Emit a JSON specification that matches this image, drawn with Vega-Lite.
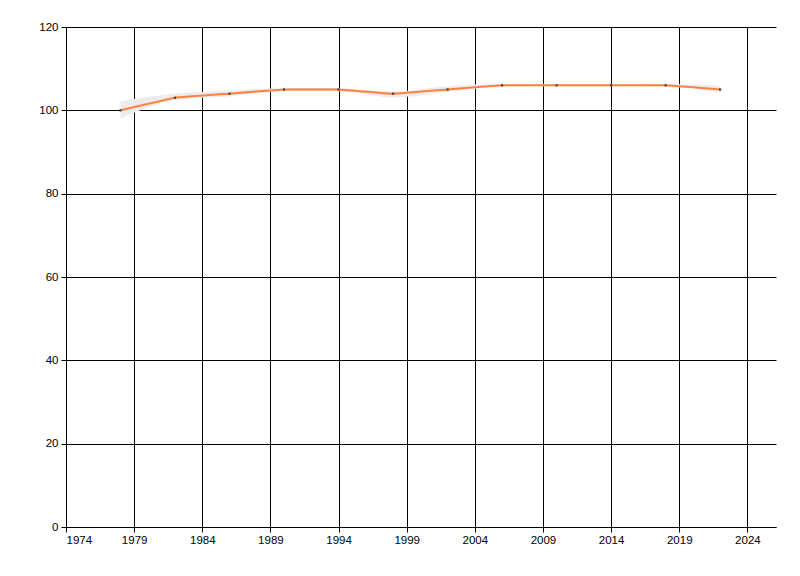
{
  "$schema": "https://vega.github.io/schema/vega-lite/v6.json",
  "width": 710,
  "height": 500,
  "autosize": {"type": "none"},
  "padding": {"left": 66, "top": 27, "right": 24, "bottom": 49},
  "background": "white",
  "config": {
    "view": {"stroke": null},
    "axis": {
      "labelFont": "Liberation Sans",
      "labelFontSize": 11.5,
      "labelColor": "#000000",
      "domainColor": "#000000",
      "tickColor": "#000000",
      "gridColor": "#000000",
      "gridOpacity": 1,
      "gridWidth": 1,
      "tickSize": 5,
      "title": null
    }
  },
  "data": {
    "values": [
      {"year": 1978, "value": 100, "lo": 98.0, "hi": 102.2},
      {"year": 1982, "value": 103, "lo": 102.4, "hi": 104.0},
      {"year": 1986, "value": 104, "lo": 103.4, "hi": 104.7},
      {"year": 1990, "value": 105, "lo": 104.6, "hi": 105.3},
      {"year": 1994, "value": 105, "lo": 104.6, "hi": 105.3},
      {"year": 1998, "value": 104, "lo": 103.1, "hi": 104.5},
      {"year": 2002, "value": 105, "lo": 104.4, "hi": 105.8},
      {"year": 2006, "value": 106, "lo": 105.7, "hi": 106.3},
      {"year": 2010, "value": 106, "lo": 105.8, "hi": 106.2},
      {"year": 2014, "value": 106, "lo": 105.8, "hi": 106.2},
      {"year": 2018, "value": 106, "lo": 105.7, "hi": 106.3},
      {"year": 2022, "value": 105, "lo": 104.2, "hi": 105.9}
    ]
  },
  "encoding": {
    "x": {
      "field": "year",
      "type": "quantitative",
      "scale": {"domain": [1974, 2026.1], "nice": false, "zero": false},
      "axis": {"values": [1974, 1979, 1984, 1989, 1994, 1999, 2004, 2009, 2014, 2019, 2024], "format": "d", "grid": true, "labelPadding": 2}
    }
  },
  "layer": [
    {
      "mark": {"type": "area", "interpolate": "monotone", "color": "#ececec"},
      "encoding": {
        "y": {"field": "lo", "type": "quantitative", "scale": {"domain": [0, 120]}},
        "y2": {"field": "hi"}
      }
    },
    {
      "mark": {"type": "line", "interpolate": "cardinal", "tension": 0.8, "color": "#ff8040", "strokeWidth": 2},
      "encoding": {
        "y": {
          "field": "value",
          "type": "quantitative",
          "scale": {"domain": [0, 120], "nice": false},
          "axis": {"values": [0, 20, 40, 60, 80, 100, 120], "grid": true, "labelPadding": 3}
        }
      }
    },
    {
      "mark": {"type": "square", "color": "#444444", "opacity": 1, "size": 5, "filled": true},
      "encoding": {
        "y": {"field": "value", "type": "quantitative"}
      }
    }
  ]
}
